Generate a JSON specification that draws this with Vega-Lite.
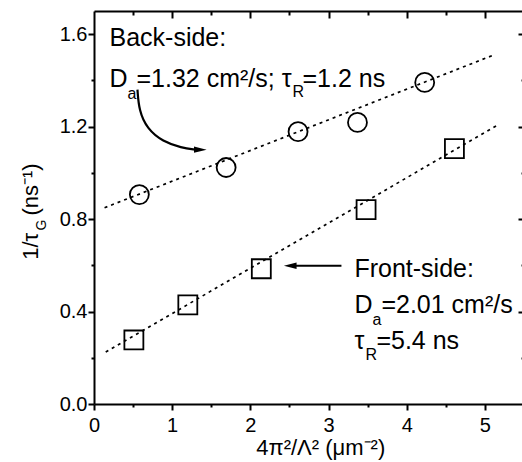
{
  "$schema": "https://vega.github.io/schema/vega-lite/v6.json",
  "autosize": {"type": "none"},
  "width": 430,
  "height": 393,
  "padding": {"left": 94, "top": 11, "right": 0, "bottom": 58},
  "background": "white",
  "config": {
    "font": "Liberation Sans",
    "view": {"stroke": null},
    "axis": {
      "domainColor": "black", "domainWidth": 2, "tickColor": "black", "tickWidth": 2,
      "labelColor": "black", "labelFont": "Liberation Sans", "labelFontSize": 20,
      "titleColor": "black", "titleFont": "Liberation Sans", "grid": false
    }
  },
  "datasets": {
    "points": [
      {"side": "Back-side", "x": 0.58, "y": 0.906},
      {"side": "Back-side", "x": 1.69, "y": 1.023},
      {"side": "Back-side", "x": 2.61, "y": 1.178},
      {"side": "Back-side", "x": 3.37, "y": 1.218},
      {"side": "Back-side", "x": 4.23, "y": 1.391},
      {"side": "Front-side", "x": 0.51, "y": 0.277},
      {"side": "Front-side", "x": 1.2, "y": 0.429},
      {"side": "Front-side", "x": 2.14, "y": 0.585},
      {"side": "Front-side", "x": 3.48, "y": 0.841},
      {"side": "Front-side", "x": 4.61, "y": 1.105}
    ],
    "fits": [
      {"side": "Back-side", "x": 0.135, "y": 0.849},
      {"side": "Back-side", "x": 5.13, "y": 1.512},
      {"side": "Front-side", "x": 0.15, "y": 0.225},
      {"side": "Front-side", "x": 5.15, "y": 1.204}
    ],
    "curve": [
      {"x": 0.556, "y": 1.36},
      {"x": 0.575, "y": 1.27},
      {"x": 0.68, "y": 1.19},
      {"x": 0.88, "y": 1.135},
      {"x": 1.12, "y": 1.108},
      {"x": 1.3, "y": 1.1}
    ],
    "straight": [
      {"x": 3.165, "y": 0.598},
      {"x": 2.55, "y": 0.598}
    ],
    "heads": [
      {"dir": "right", "x": 1.36, "y": 1.1},
      {"dir": "left", "x": 2.51, "y": 0.598}
    ],
    "notes": [
      {"role": "main", "text": "Back-side:", "x": 0.198, "y": 1.547},
      {"role": "main", "text": "D", "x": 0.198, "y": 1.373},
      {"role": "main", "text": "=1.32 cm²/s; τ", "x": 0.543, "y": 1.373},
      {"role": "main", "text": "=1.2 ns", "x": 2.666, "y": 1.373},
      {"role": "main", "text": "Front-side:", "x": 3.331, "y": 0.55},
      {"role": "main", "text": "D", "x": 3.331, "y": 0.394},
      {"role": "main", "text": "=2.01 cm²/s", "x": 3.676, "y": 0.394},
      {"role": "main", "text": "τ", "x": 3.331, "y": 0.238},
      {"role": "main", "text": "=5.4 ns", "x": 3.612, "y": 0.238},
      {"role": "sub", "text": "a", "x": 0.428, "y": 1.321},
      {"role": "sub", "text": "R", "x": 2.538, "y": 1.326},
      {"role": "sub", "text": "a", "x": 3.561, "y": 0.342},
      {"role": "sub", "text": "R", "x": 3.472, "y": 0.19}
    ],
    "ytitle": [
      {"role": "main", "text": "1/τ", "x": -0.71, "y": 0.624},
      {"role": "sub", "text": "G", "x": -0.62, "y": 0.75},
      {"role": "main", "text": "(ns⁻¹)", "x": -0.71, "y": 0.815}
    ],
    "xtitle": [
      {"text": "4π²/Λ² (μm⁻²)", "x": 2.9, "y": -0.221}
    ]
  },
  "layer": [
    {
      "data": {"name": "fits"},
      "mark": {"type": "line", "stroke": "black", "strokeWidth": 1.7, "strokeDash": [3, 4]},
      "encoding": {
        "x": {"field": "x", "type": "quantitative", "scale": {"domain": [0, 5.5], "nice": false, "zero": false},
          "axis": {"orient": "top", "values": [0.5, 1, 1.5, 2, 2.5, 3, 3.5, 4, 4.5, 5], "labels": false, "title": null,
            "tickSize": {"condition": {"test": "datum.value % 1 !== 0", "value": -4}, "value": -7}}},
        "y": {"field": "y", "type": "quantitative", "scale": {"domain": [0, 1.7], "nice": false, "zero": false},
          "axis": {"orient": "right", "values": [0.2, 0.4, 0.6, 0.8, 1, 1.2, 1.4, 1.6], "labels": false, "title": null,
            "tickSize": {"condition": {"test": "round(datum.value*10) % 4 !== 0", "value": -3}, "value": -6}}},
        "detail": {"field": "side", "type": "nominal"}
      }
    },
    {
      "data": {"name": "points"},
      "mark": {"type": "point", "filled": false, "stroke": "black", "strokeWidth": 1.8, "opacity": 1, "size": 360},
      "encoding": {
        "x": {"field": "x", "type": "quantitative", "scale": {"domain": [0, 5.5], "nice": false, "zero": false},
          "axis": {"orient": "bottom", "values": [0, 0.5, 1, 1.5, 2, 2.5, 3, 3.5, 4, 4.5, 5],
            "labelExpr": "datum.value % 1 === 0 ? format(datum.value, 'd') : ''",
            "tickSize": {"condition": {"test": "datum.value % 1 !== 0", "value": 3}, "value": 6},
            "labelPadding": 5, "labelFlush": false, "labelOverlap": false, "title": null}},
        "y": {"field": "y", "type": "quantitative", "scale": {"domain": [0, 1.7], "nice": false, "zero": false},
          "axis": {"orient": "left", "values": [0, 0.2, 0.4, 0.6, 0.8, 1, 1.2, 1.4, 1.6],
            "labelExpr": "round(datum.value*10) % 4 === 0 ? format(datum.value, '.1f') : ''",
            "tickSize": {"condition": {"test": "round(datum.value*10) % 4 !== 0", "value": 3}, "value": 6},
            "labelPadding": 1, "labelOverlap": false, "title": null}},
        "shape": {"field": "side", "type": "nominal", "scale": {"domain": ["Back-side", "Front-side"], "range": ["circle", "square"]}, "legend": null}
      }
    },
    {
      "data": {"name": "curve"},
      "mark": {"type": "line", "stroke": "black", "strokeWidth": 2.2, "interpolate": "basis"},
      "encoding": {
        "x": {"field": "x", "type": "quantitative", "axis": null},
        "y": {"field": "y", "type": "quantitative", "axis": null},
        "order": {"field": "x", "type": "quantitative"}
      }
    },
    {
      "data": {"name": "straight"},
      "mark": {"type": "line", "stroke": "black", "strokeWidth": 1.8},
      "encoding": {
        "x": {"field": "x", "type": "quantitative", "axis": null},
        "y": {"field": "y", "type": "quantitative", "axis": null}
      }
    },
    {
      "data": {"name": "heads"},
      "mark": {"type": "point", "filled": true, "fill": "black", "stroke": null, "opacity": 1, "size": 160},
      "encoding": {
        "x": {"field": "x", "type": "quantitative", "axis": null},
        "y": {"field": "y", "type": "quantitative", "axis": null},
        "shape": {"field": "dir", "type": "nominal", "scale": {"domain": ["right", "left"], "range": ["M-1,-0.5L1,0L-1,0.5Z", "M1,-0.5L-1,0L1,0.5Z"]}, "legend": null}
      }
    },
    {
      "data": {"name": "notes"},
      "transform": [{"filter": "datum.role === 'main'"}],
      "mark": {"type": "text", "align": "left", "baseline": "alphabetic", "fontSize": 25, "color": "black"},
      "encoding": {
        "x": {"field": "x", "type": "quantitative", "axis": null},
        "y": {"field": "y", "type": "quantitative", "axis": null},
        "text": {"field": "text"}
      }
    },
    {
      "data": {"name": "notes"},
      "transform": [{"filter": "datum.role === 'sub'"}],
      "mark": {"type": "text", "align": "left", "baseline": "alphabetic", "fontSize": 16, "color": "black"},
      "encoding": {
        "x": {"field": "x", "type": "quantitative", "axis": null},
        "y": {"field": "y", "type": "quantitative", "axis": null},
        "text": {"field": "text"}
      }
    },
    {
      "data": {"name": "ytitle"},
      "transform": [{"filter": "datum.role === 'main'"}],
      "mark": {"type": "text", "align": "left", "baseline": "alphabetic", "fontSize": 22, "angle": 270, "color": "black"},
      "encoding": {
        "x": {"field": "x", "type": "quantitative", "axis": null},
        "y": {"field": "y", "type": "quantitative", "axis": null},
        "text": {"field": "text"}
      }
    },
    {
      "data": {"name": "ytitle"},
      "transform": [{"filter": "datum.role === 'sub'"}],
      "mark": {"type": "text", "align": "left", "baseline": "alphabetic", "fontSize": 14, "angle": 270, "color": "black"},
      "encoding": {
        "x": {"field": "x", "type": "quantitative", "axis": null},
        "y": {"field": "y", "type": "quantitative", "axis": null},
        "text": {"field": "text"}
      }
    },
    {
      "data": {"name": "xtitle"},
      "mark": {"type": "text", "align": "center", "baseline": "alphabetic", "fontSize": 22, "color": "black"},
      "encoding": {
        "x": {"field": "x", "type": "quantitative", "axis": null},
        "y": {"field": "y", "type": "quantitative", "axis": null},
        "text": {"field": "text"}
      }
    }
  ],
  "resolve": {"axis": {"x": "independent", "y": "independent"}, "scale": {"shape": "independent"}}
}
